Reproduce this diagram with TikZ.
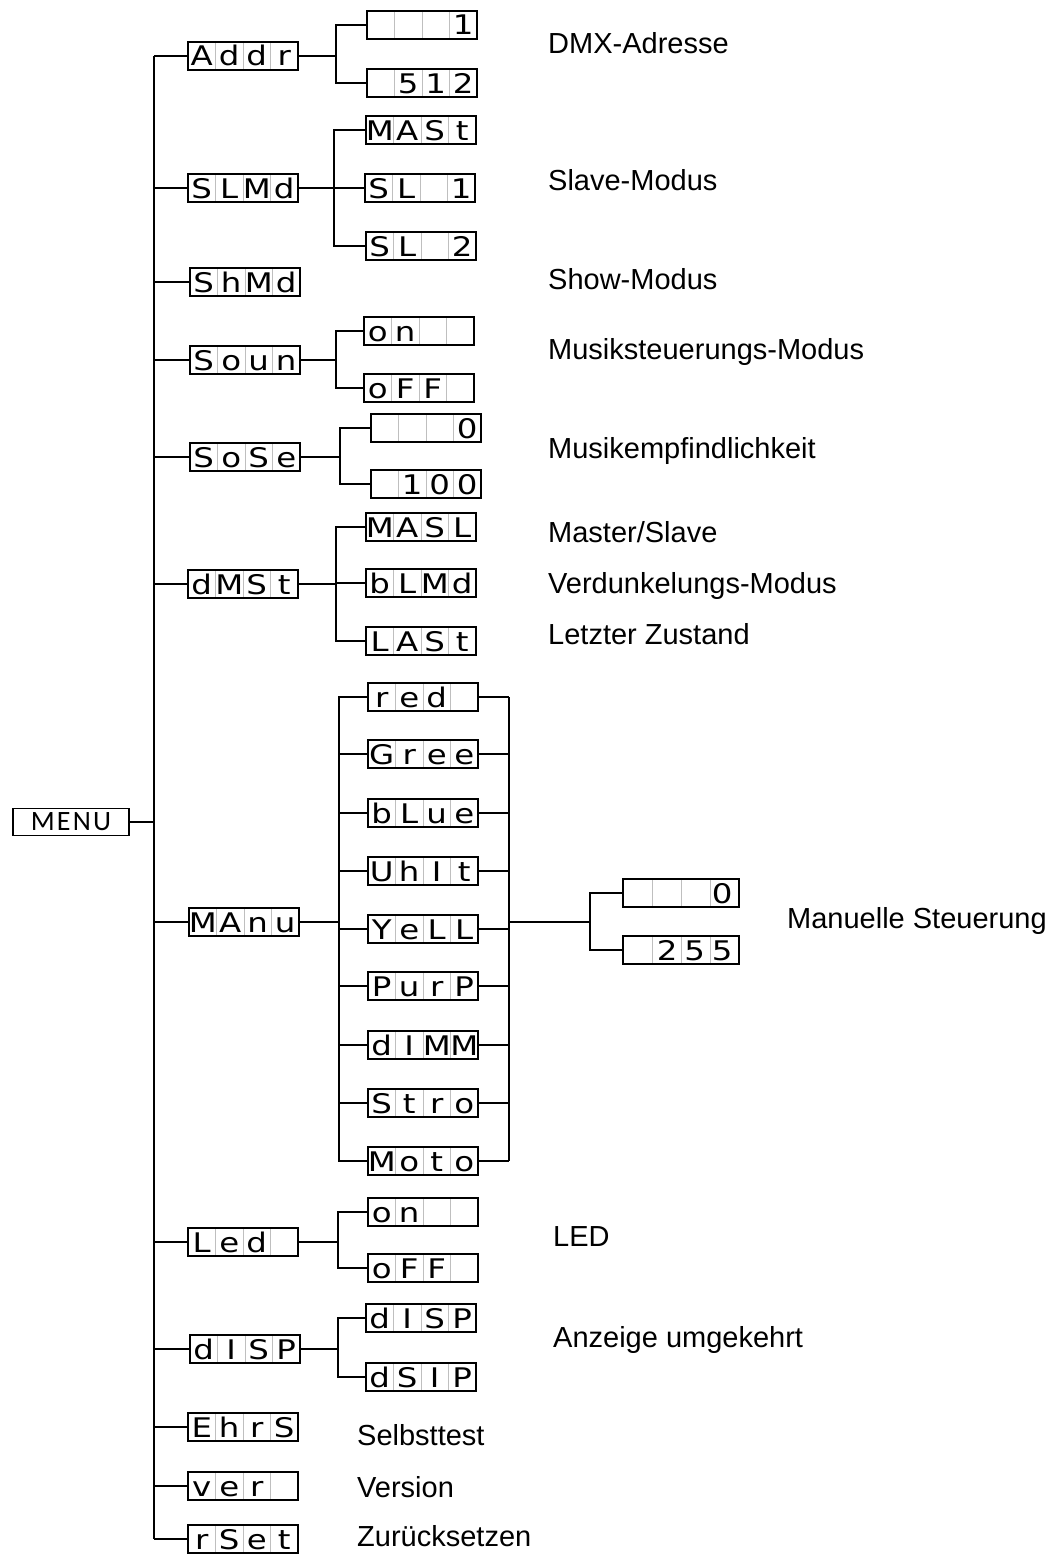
\documentclass[tikz,border=0pt]{standalone}
\usepackage{fontspec}
\setmainfont{Liberation Sans}
\newfontfamily\segfont{DejaVu Sans}[FakeStretch=1.2]
\newfontfamily\menufont{Carlito}[LetterSpace=8]
\usetikzlibrary{calc}
\newcommand{\lcd}[4]{\makebox[27.5pt]{#1}\makebox[27.5pt]{#2}\makebox[27.5pt]{#3}\makebox[27.5pt]{#4}}
\begin{document}
\begin{tikzpicture}[x=1pt,y=-1pt,every node/.style={inner sep=0pt},
  line/.style={line width=2.3pt},
  lcdbox/.style={draw,line width=1.6pt,minimum width=110pt,minimum height=28pt,
    font=\segfont\fontsize{27}{27}\selectfont,text height=22pt,text depth=2pt,
    path picture={\foreach \k in {1,2,3}
      \draw[gray!50,line width=0.8pt]
        ($(path picture bounding box.north west)!\k/4!(path picture bounding box.north east)$) --
        ($(path picture bounding box.south west)!\k/4!(path picture bounding box.south east)$);}},
  note/.style={anchor=base west,font=\fontsize{29}{29}\selectfont}]
\useasboundingbox (0,0) rectangle (1056,1555);
\node[draw,line width=1.6pt,minimum width=116pt,minimum height=27pt,font=\menufont\fontsize{28}{28}\selectfont] (menu) at (71,822) {MENU};
\coordinate (trunk) at (154,0);
% first level
\node[lcdbox] (addr) at (243,56) {\lcd{A}{d}{d}{r}};
\node[lcdbox] (slmd) at (243,188) {\lcd{S}{L}{M}{d}};
\node[lcdbox] (shmd) at (245,282) {\lcd{S}{h}{M}{d}};
\node[lcdbox] (soun) at (245,360) {\lcd{S}{o}{u}{n}};
\node[lcdbox] (sose) at (245,457) {\lcd{S}{o}{S}{e}};
\node[lcdbox] (dmst) at (243,584) {\lcd{d}{M}{S}{t}};
\node[lcdbox] (manu) at (244,922) {\lcd{M}{A}{n}{u}};
\node[lcdbox] (led) at (243,1242) {\lcd{L}{e}{d}{}};
\node[lcdbox] (disp) at (245,1349) {\lcd{d}{I}{S}{P}};
\node[lcdbox] (ehrs) at (243,1427) {\lcd{E}{h}{r}{S}};
\node[lcdbox] (ver) at (243,1486) {\lcd{v}{e}{r}{}};
\node[lcdbox] (rset) at (243,1539) {\lcd{r}{S}{e}{t}};
% second level
\node[lcdbox] (a1) at (422,25) {\lcd{}{}{}{1}};
\node[lcdbox] (a2) at (422,83) {\lcd{}{5}{1}{2}};
\node[lcdbox] (s1) at (421,130) {\lcd{M}{A}{S}{t}};
\node[lcdbox] (s2) at (420,188) {\lcd{S}{L}{}{1}};
\node[lcdbox] (s3) at (421,246) {\lcd{S}{L}{}{2}};
\node[lcdbox] (o1) at (419,331) {\lcd{o}{n}{}{}};
\node[lcdbox] (o2) at (419,388) {\lcd{o}{F}{F}{}};
\node[lcdbox] (e1) at (426,428) {\lcd{}{}{}{0}};
\node[lcdbox] (e2) at (426,484) {\lcd{}{1}{0}{0}};
\node[lcdbox] (d1) at (421,527) {\lcd{M}{A}{S}{L}};
\node[lcdbox] (d2) at (421,583) {\lcd{b}{L}{M}{d}};
\node[lcdbox] (d3) at (421,641) {\lcd{L}{A}{S}{t}};
\node[lcdbox] (m1) at (423,697) {\lcd{r}{e}{d}{}};
\node[lcdbox] (m2) at (423,754) {\lcd{G}{r}{e}{e}};
\node[lcdbox] (m3) at (423,813) {\lcd{b}{L}{u}{e}};
\node[lcdbox] (m4) at (423,871) {\lcd{U}{h}{I}{t}};
\node[lcdbox] (m5) at (423,929) {\lcd{Y}{e}{L}{L}};
\node[lcdbox] (m6) at (423,986) {\lcd{P}{u}{r}{P}};
\node[lcdbox] (m7) at (423,1045) {\lcd{d}{I}{M}{M}};
\node[lcdbox] (m8) at (423,1103) {\lcd{S}{t}{r}{o}};
\node[lcdbox] (m9) at (423,1161) {\lcd{M}{o}{t}{o}};
\node[lcdbox,minimum width=116pt] (v1) at (681,893) {\lcd{}{}{}{0}};
\node[lcdbox,minimum width=116pt] (v2) at (681,950) {\lcd{}{2}{5}{5}};
\node[lcdbox] (l1) at (423,1212) {\lcd{o}{n}{}{}};
\node[lcdbox] (l2) at (423,1268) {\lcd{o}{F}{F}{}};
\node[lcdbox] (p1) at (421,1318) {\lcd{d}{I}{S}{P}};
\node[lcdbox] (p2) at (421,1377) {\lcd{d}{S}{I}{P}};
% junctions
\coordinate (ja) at (336,56);
\coordinate (js) at (334,188);
\coordinate (jo) at (336,360);
\coordinate (je) at (340,457);
\coordinate (jd) at (336,584);
\coordinate (jm) at (339,922);
\coordinate (jl) at (338,1242);
\coordinate (jp) at (338,1349);
\coordinate (rb) at (509,0);
\coordinate (jv) at (590,922);
% connectors
\draw[line] (menu.east) -- (menu.east -| trunk);
\draw[line] (addr.west -| trunk) -- (rset.west -| trunk);
\foreach \n in {addr,slmd,shmd,soun,sose,dmst,manu,led,disp,ehrs,ver,rset}
  \draw[line] (\n.west) -- (\n.west -| trunk);
\foreach \p/\j in {addr/ja,slmd/js,soun/jo,sose/je,dmst/jd,manu/jm,led/jl,disp/jp}
  \draw[line] (\p.east) -- (\j);
\foreach \j/\c in {ja/a1,ja/a2,js/s1,js/s2,js/s3,jo/o1,jo/o2,je/e1,je/e2,jd/d1,jd/d2,jd/d3,
    jm/m1,jm/m2,jm/m3,jm/m4,jm/m5,jm/m6,jm/m7,jm/m8,jm/m9,jl/l1,jl/l2,jp/p1,jp/p2,jv/v1,jv/v2}
  \draw[line] (\j) |- (\c.west);
\foreach \c in {m1,m2,m3,m4,m5,m6,m7,m8,m9}
  \draw[line] (\c.east) -- (\c.east -| rb);
\draw[line] (m1.east -| rb) -- (m9.east -| rb);
\draw[line] (jv -| rb) -- (jv);
% descriptions
\node[note] (t1) at (548,53) {DMX-Adresse};
\node[note] (t2) at (548,190) {Slave-Modus};
\node[note] (t3) at (548,289) {Show-Modus};
\node[note] (t4) at (548,359) {Musiksteuerungs-Modus};
\node[note] (t5) at (548,458) {Musikempfindlichkeit};
\node[note] (t6) at (548,542) {Master/Slave};
\node[note] (t7) at (548,593) {Verdunkelungs-Modus};
\node[note] (t8) at (548,644) {Letzter Zustand};
\node[note] (t9) at (787,928) {Manuelle Steuerung};
\node[note] (t10) at (553,1246) {LED};
\node[note] (t11) at (553,1347) {Anzeige umgekehrt};
\node[note] (t12) at (357,1445) {Selbsttest};
\node[note] (t13) at (357,1497) {Version};
\node[note] (t14) at (357,1546) {Zurücksetzen};
\end{tikzpicture}
\end{document}
